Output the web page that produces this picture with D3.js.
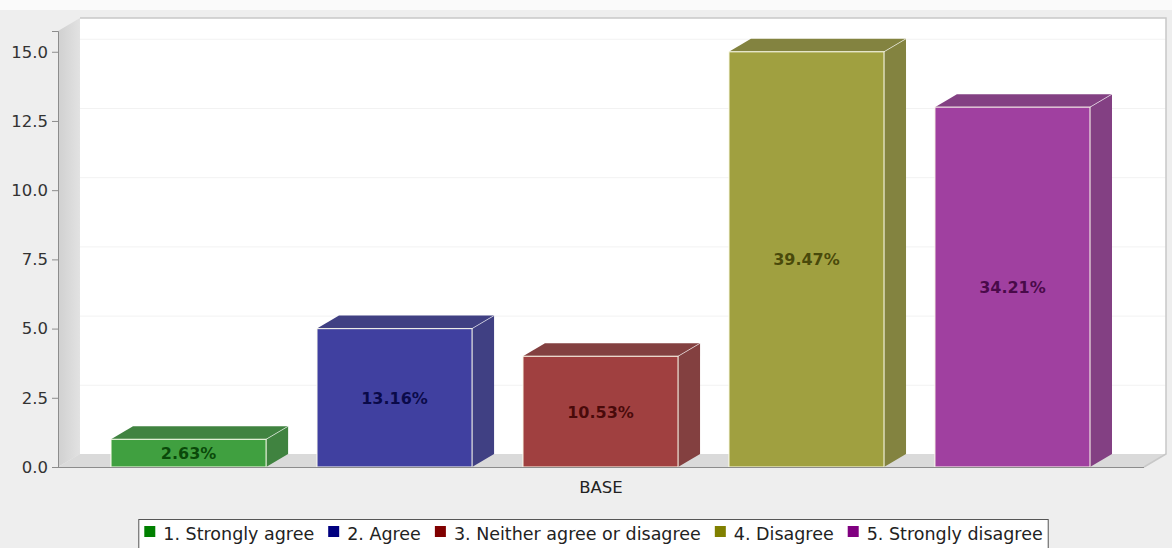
<!DOCTYPE html>
<html><head><meta charset="utf-8">
<script src="https://cdn.jsdelivr.net/npm/d3@7"></script>
<style>html,body{margin:0;padding:0;background:#eeeeee;}svg{display:block;}</style>
</head><body>
<svg id="c" width="1172" height="548"></svg>
<script>
const category = "BASE";
const series = ["1. Strongly agree","2. Agree","3. Neither agree or disagree","4. Disagree","5. Strongly disagree"];
const values = [1, 5, 4, 15, 13];
const itemLabels = ["2.63%","13.16%","10.53%","39.47%","34.21%"];
const colors = ["#008000","#000080","#800000","#808000","#800080"];
const yTicks = [0, 2.5, 5, 7.5, 10, 12.5, 15];

(function () {
const W = 1172, H = 548;
const FONT = "'DejaVu Sans', sans-serif";
const svg = d3.select("#c");
const DX = 22, DY = 13;
const pLeft = 58, pRight = 1144, pBottom = 467, pTop = 31;

svg.append("rect").attr("width", W).attr("height", H).attr("fill", "#eeeeee");
svg.append("rect").attr("width", W).attr("height", 10).attr("fill", "#fafafa");

const y = d3.scaleLinear().domain([0, 15.75]).range([pBottom, pTop]);
const x = d3.scaleBand().domain(series).range([111, 1090]).paddingInner(0.247).paddingOuter(0);

const alphaMix = (c, a) => { const k = d3.rgb(c); return d3.rgb(k.r*a + 255*(1-a), k.g*a + 255*(1-a), k.b*a + 255*(1-a)).formatHex(); };
const darker = c => { const k = d3.rgb(c); return d3.rgb(k.r*0.7, k.g*0.7, k.b*0.7); };

// back wall
svg.append("rect").attr("x", pLeft + DX).attr("y", pTop - DY).attr("width", pRight - pLeft).attr("height", pBottom - pTop)
  .attr("fill", "#ffffff");
// left wall
const wallGrad = svg.append("defs").append("linearGradient").attr("id", "wg").attr("x1", 0).attr("x2", 1).attr("y1", 0).attr("y2", 0);
wallGrad.append("stop").attr("offset", 0).attr("stop-color", "#d0d0d0");
wallGrad.append("stop").attr("offset", 1).attr("stop-color", "#e2e2e2");
svg.append("path").attr("d", `M${pLeft},${pBottom}L${pLeft},${pTop}L${pLeft+DX},${pTop-DY}L${pLeft+DX},${pBottom-DY}Z`)
  .attr("fill", "url(#wg)");
// floor
svg.append("path").attr("d", `M${pLeft},${pBottom}L${pRight},${pBottom}L${pRight+DX},${pBottom-DY}L${pLeft+DX},${pBottom-DY}Z`)
  .attr("fill", "#dadada");

// gridlines on back wall
svg.append("g").selectAll("line").data(yTicks.filter(d => d > 0)).join("line")
  .attr("x1", pLeft + DX).attr("x2", pRight + DX)
  .attr("y1", d => y(d) - DY + 0.5).attr("y2", d => y(d) - DY + 0.5)
  .attr("stroke", "#f2f2f2").attr("stroke-width", 1);

// outline
svg.append("path").attr("d", `M${pLeft+DX},${pTop-DY}L${pRight+DX},${pTop-DY}L${pRight+DX},${pBottom-DY}L${pRight},${pBottom}`)
  .attr("fill", "none").attr("stroke", "#c8c8c8").attr("stroke-width", 1.5);

// bars
const bars = svg.append("g").selectAll("g").data(series).join("g");
bars.each(function(s, i) {
  const g = d3.select(this);
  const x0 = x(s), b = x.bandwidth(), yv = y(values[i]), y0 = y(0);
  const front = alphaMix(colors[i], 0.75);
  const dark = alphaMix(darker(colors[i]), 0.75);
  g.append("path").attr("d", `M${x0+b},${yv}L${x0+b+DX},${yv-DY}L${x0+b+DX},${y0-DY}L${x0+b},${y0}Z`)
    .attr("fill", dark);
  g.append("path").attr("d", `M${x0},${yv}L${x0+DX},${yv-DY}L${x0+b+DX},${yv-DY}L${x0+b},${yv}Z`)
    .attr("fill", dark);
  g.append("path").attr("d", `M${x0+b},${yv}L${x0+b+DX},${yv-DY}`).attr("stroke", "rgba(255,255,255,0.6)").attr("stroke-width", 1);
  g.append("rect").attr("x", x0).attr("y", yv).attr("width", b).attr("height", y0 - yv)
    .attr("fill", front).attr("stroke", "rgba(255,255,240,0.85)").attr("stroke-width", 1.2);
  g.append("text").attr("x", x0 + b / 2).attr("y", (yv + y0) / 2 + 6)
    .attr("text-anchor", "middle").attr("font-family", FONT).attr("font-size", 16)
    .attr("font-weight", "bold").attr("fill", d3.interpolateRgb(colors[i], "#000")(0.55))
    .attr("fill-opacity", 0.85)
    .text(itemLabels[i]);
});

// y axis
const yAxis = svg.append("g").attr("transform", `translate(${pLeft},0)`)
  .call(d3.axisLeft(y).tickValues(yTicks).tickFormat(d3.format(".1f")).tickSize(6).tickPadding(4));
yAxis.select(".domain").attr("stroke", "#8c8c8c");
yAxis.selectAll(".tick line").attr("stroke", "#8c8c8c");
yAxis.selectAll("text").attr("font-family", FONT).attr("font-size", 16.5).attr("fill", "#333");

// x axis line
svg.append("line").attr("x1", pLeft).attr("x2", pRight).attr("y1", pBottom + 0.5).attr("y2", pBottom + 0.5)
  .attr("stroke", "#8c8c8c");
svg.append("text").attr("x", (pLeft + pRight) / 2).attr("y", 493).attr("text-anchor", "middle")
  .attr("font-family", FONT).attr("font-size", 16.5).attr("fill", "#222").text(category);

// legend
const lg = svg.append("g");
const items = lg.selectAll("g").data(series).join("g");
items.append("rect").attr("width", 11).attr("height", 11).attr("y", 526).attr("fill", (d, i) => colors[i]);
items.append("text").attr("x", 19).attr("y", 540).attr("font-family", FONT).attr("font-size", 17.5).attr("fill", "#222").text(d => d);
let widths = [];
items.each(function() { widths.push(19 + this.querySelector("text").getComputedTextLength()); });
const gap = 14;
const total = d3.sum(widths) + gap * (widths.length - 1);
const lx0 = 593.5 - total / 2;
let cx = lx0;
items.each(function(d, i) { d3.select(this).attr("transform", `translate(${cx},0)`); cx += widths[i] + gap; });
lg.insert("rect", ":first-child").attr("x", lx0 - 5.5).attr("y", 519.5).attr("width", total + 11).attr("height", 40)
  .attr("fill", "#ffffff").attr("stroke", "#555").attr("stroke-width", 1);
})();
</script>
</body></html>
